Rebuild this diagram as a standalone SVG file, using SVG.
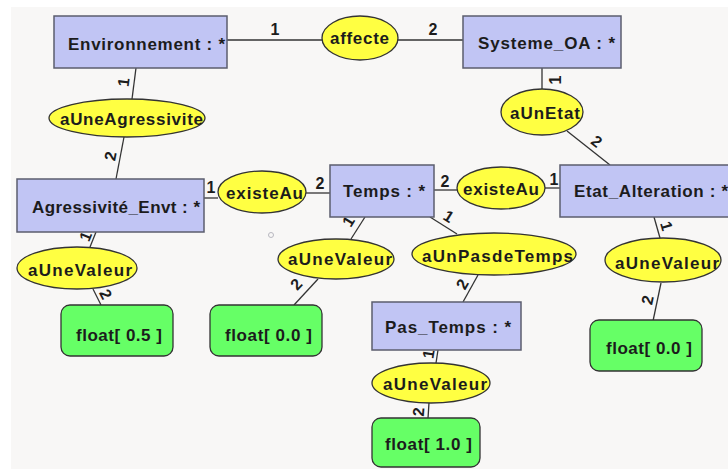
<svg xmlns="http://www.w3.org/2000/svg" width="728" height="469" viewBox="0 0 728 469">
<style>
.cls rect{fill:#c1c5f4;stroke:#5b5d6e;stroke-width:1.5}
.rel ellipse{fill:#ffff42;stroke:#333;stroke-width:1.3}
.lit rect{fill:#66ff66;stroke:#333;stroke-width:1.3}
text{font-family:"Liberation Sans",Arial,sans-serif;font-weight:bold;font-size:17px;fill:#1c1c1c}
.lbl{font-size:16px;text-anchor:middle}
#connectors line{stroke:#333;stroke-width:1.3}
</style>
<rect x="0" y="0" width="728" height="469" fill="#ffffff"/>
<rect x="11" y="7" width="717" height="462" fill="#f8f7f6"/>
<circle cx="271" cy="235" r="2.5" fill="none" stroke="#b8b8c0" stroke-width="1"/>

<g id="connectors">
<line x1="227" y1="40" x2="322" y2="40"/>
<line x1="398" y1="40" x2="463" y2="40"/>
<line x1="136" y1="68" x2="132" y2="99"/>
<line x1="124" y1="137" x2="116" y2="179"/>
<line x1="542" y1="68" x2="542" y2="89"/>
<line x1="567" y1="131" x2="610" y2="165"/>
<line x1="204" y1="198" x2="218" y2="198"/>
<line x1="306" y1="193" x2="330" y2="193"/>
<line x1="434" y1="190" x2="457" y2="190"/>
<line x1="545" y1="188" x2="560" y2="188"/>
<line x1="96" y1="232" x2="90" y2="247"/>
<line x1="93" y1="289" x2="101" y2="305"/>
<line x1="365" y1="217" x2="351" y2="239"/>
<line x1="318" y1="279" x2="294" y2="305"/>
<line x1="430" y1="217" x2="457" y2="234"/>
<line x1="478" y1="275" x2="463" y2="302"/>
<line x1="654" y1="217" x2="660" y2="238"/>
<line x1="661" y1="283" x2="653" y2="321"/>
<line x1="438" y1="350" x2="436" y2="363"/>
<line x1="429" y1="403" x2="428" y2="418"/>
<text class="lbl" x="275" y="35">1</text>
<text class="lbl" x="433" y="35">2</text>
<text class="lbl" transform="translate(123,82) rotate(-83)" y="6">1</text>
<text class="lbl" transform="translate(110,156) rotate(-79)" y="6">2</text>
<text class="lbl" transform="translate(555,80) rotate(-90)" y="6">1</text>
<text class="lbl" transform="translate(597,141) rotate(38)" y="6">2</text>
<text class="lbl" x="211" y="193">1</text>
<text class="lbl" x="320" y="189">2</text>
<text class="lbl" x="445" y="187">2</text>
<text class="lbl" x="554" y="185">1</text>
<text class="lbl" transform="translate(85,236) rotate(-68)" y="6">1</text>
<text class="lbl" transform="translate(106,294) rotate(63)" y="6">2</text>
<text class="lbl" transform="translate(348,221) rotate(-58)" y="6">1</text>
<text class="lbl" transform="translate(296,284) rotate(-47)" y="6">2</text>
<text class="lbl" transform="translate(449,216) rotate(32)" y="6">1</text>
<text class="lbl" transform="translate(462,284) rotate(-61)" y="6">2</text>
<text class="lbl" transform="translate(667,226) rotate(74)" y="6">1</text>
<text class="lbl" transform="translate(647,300) rotate(-78)" y="6">2</text>
<text class="lbl" transform="translate(428,354) rotate(-81)" y="6">1</text>
<text class="lbl" transform="translate(418,412) rotate(-86)" y="6">2</text>
</g>

<g id="Environnement" class="cls"><rect x="54" y="16" width="173" height="52"/><text x="68" y="50" textLength="157" lengthAdjust="spacing">Environnement : *</text></g>
<g id="Systeme_OA" class="cls"><rect x="463" y="16" width="158" height="52"/><text x="478" y="49" textLength="137" lengthAdjust="spacing">Systeme_OA : *</text></g>
<g id="Agressivite_Envt" class="cls"><rect x="17" y="179" width="187" height="53"/><text x="32" y="213" textLength="168" lengthAdjust="spacing">Agressivité_Envt : *</text></g>
<g id="Temps" class="cls"><rect x="330" y="165" width="104" height="52"/><text x="343" y="197" textLength="82" lengthAdjust="spacing">Temps : *</text></g>
<g id="Etat_Alteration" class="cls"><rect x="560" y="165" width="180" height="52"/><text x="574" y="197" textLength="154" lengthAdjust="spacing">Etat_Alteration : *</text></g>
<g id="Pas_Temps" class="cls"><rect x="372" y="302" width="149" height="48"/><text x="385" y="333" textLength="126" lengthAdjust="spacing">Pas_Temps : *</text></g>

<g id="affecte" class="rel"><ellipse cx="360" cy="38" rx="38" ry="22"/><text x="330" y="44" textLength="59" lengthAdjust="spacing">affecte</text></g>
<g id="aUnEtat" class="rel"><ellipse cx="542" cy="112" rx="41" ry="23"/><text x="510" y="119" textLength="70" lengthAdjust="spacing">aUnEtat</text></g>
<g id="aUneAgressivite" class="rel"><ellipse cx="127" cy="118" rx="78" ry="19"/><text x="60" y="125" textLength="143" lengthAdjust="spacing">aUneAgressivite</text></g>
<g id="existeAu_1" class="rel"><ellipse cx="262" cy="192" rx="44" ry="21"/><text x="226" y="199" textLength="77" lengthAdjust="spacing">existeAu</text></g>
<g id="existeAu_2" class="rel"><ellipse cx="501" cy="188" rx="44" ry="21"/><text x="463" y="195" textLength="76" lengthAdjust="spacing">existeAu</text></g>
<g id="aUneValeur_1" class="rel"><ellipse cx="77" cy="268" rx="60" ry="21"/><text x="28" y="276" textLength="104" lengthAdjust="spacing">aUneValeur</text></g>
<g id="aUneValeur_2" class="rel"><ellipse cx="336" cy="259" rx="58" ry="20"/><text x="288" y="265" textLength="104" lengthAdjust="spacing">aUneValeur</text></g>
<g id="aUnPasdeTemps" class="rel"><ellipse cx="494" cy="254" rx="82" ry="21"/><text x="422" y="262" textLength="151" lengthAdjust="spacing">aUnPasdeTemps</text></g>
<g id="aUneValeur_3" class="rel"><ellipse cx="663" cy="260" rx="58" ry="22"/><text x="615" y="269" textLength="104" lengthAdjust="spacing">aUneValeur</text></g>
<g id="aUneValeur_4" class="rel"><ellipse cx="431" cy="383" rx="59" ry="20"/><text x="383" y="390" textLength="104" lengthAdjust="spacing">aUneValeur</text></g>

<g id="float_05" class="lit"><rect x="61" y="305" width="112" height="51" rx="9"/><text x="76" y="341" textLength="86" lengthAdjust="spacing">float[ 0.5 ]</text></g>
<g id="float_00a" class="lit"><rect x="210" y="305" width="112" height="51" rx="9"/><text x="225" y="341" textLength="87" lengthAdjust="spacing">float[ 0.0 ]</text></g>
<g id="float_00b" class="lit"><rect x="590" y="320" width="112" height="51" rx="9"/><text x="606" y="354" textLength="86" lengthAdjust="spacing">float[ 0.0 ]</text></g>
<g id="float_10" class="lit"><rect x="372" y="418" width="108" height="49" rx="9"/><text x="385" y="450" textLength="87" lengthAdjust="spacing">float[ 1.0 ]</text></g>
</svg>
